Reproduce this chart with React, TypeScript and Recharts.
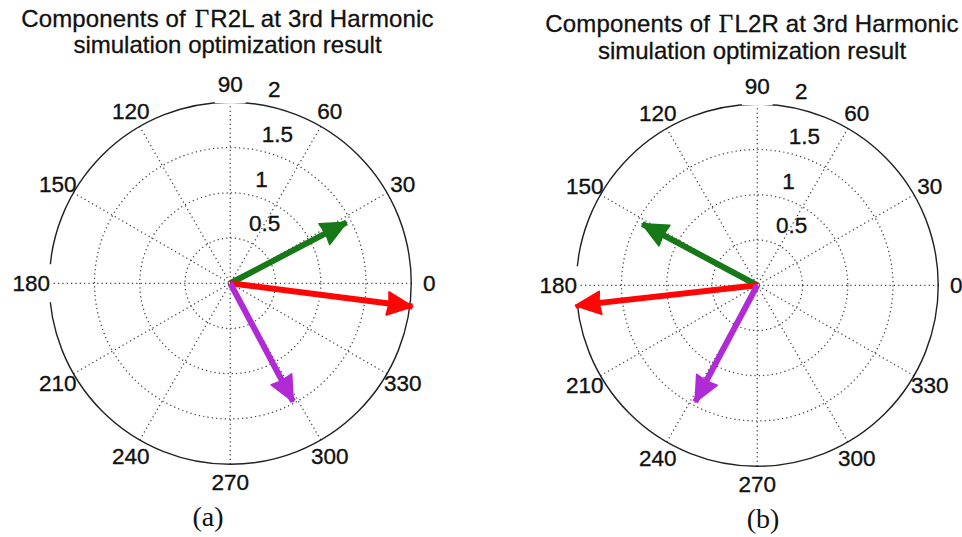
import React from 'react';
import { ComposedChart, XAxis, YAxis, Line, ReferenceLine, ReferenceDot } from 'recharts';

// ---------- data ----------
const ANGLE_TICKS = [0, 30, 60, 90, 120, 150, 180, 210, 240, 270, 300, 330];
const RADIUS_TICKS = [0.5, 1, 1.5, 2];
const RADIUS_MAX = 2;
const VECTOR_COLORS = ['#167816', '#ff0606', '#b02ad6'];

// panel (a): components of Gamma R2L  (magnitude, angle in degrees)
const R2L_MAGNITUDES = [1.45, 2.03, 1.48];
const R2L_ANGLES = [27.6, -7.3, 298];

// panel (b): components of Gamma L2R
const L2R_MAGNITUDES = [1.44, 2.02, 1.46];
const L2R_ANGLES = [151.9, 186.4, 242];

const TITLE_PREFIX = 'Components of ';
const TITLE_SYMBOL = '\u0393';
const TITLE_NAMES = ['R2L', 'L2R'];
const TITLE_SUFFIX = ' at 3rd Harmonic';
const TITLE_LINE2 = 'simulation optimization result';
const SUB_LABELS = ['(a)', '(b)'];

// ---------- helpers ----------
const SANS = '"Liberation Sans", Arial, Helvetica, sans-serif';
const SERIF = '"Liberation Serif", "Times New Roman", serif';
const RAD = Math.PI / 180;
const DOMAIN = 2.5;
const PLOT = 452.5; // 90.5 px per unit
const GRID_DOT = { stroke: '#444', strokeWidth: 1.25, strokeDasharray: '1.25 3.1' };
const TEXT_COLOR = '#111';

const polarToXY = (mag: number, deg: number) => ({
  x: mag * Math.cos(deg * RAD),
  y: mag * Math.sin(deg * RAD),
});

function makeArrowDot(color: string) {
  return (props: any) => {
    const { cx, cy, index, points, payload } = props;
    if (index !== 1 || cx == null || cy == null) return <g key={`n-${index}`} />;
    let dx: number;
    let dy: number;
    if (points && points.length > 1) {
      dx = cx - points[0].x;
      dy = cy - points[0].y;
    } else {
      dx = Math.cos(payload.deg * RAD);
      dy = -Math.sin(payload.deg * RAD);
    }
    const len = Math.hypot(dx, dy) || 1;
    const ux = dx / len;
    const uy = dy / len;
    const L = 25;
    const W = 11.5;
    const bx = cx - ux * L;
    const by = cy - uy * L;
    const nx = cx - ux * L * 0.94;
    const ny = cy - uy * L * 0.94;
    const pts = `${cx},${cy} ${bx - uy * W},${by + ux * W} ${nx},${ny} ${bx + uy * W},${by - ux * W}`;
    return (
      <polygon
        key={`a-${index}`}
        points={pts}
        fill={color}
        stroke={color}
        strokeWidth={1.8}
        strokeLinejoin="round"
      />
    );
  };
}

type PanelProps = {
  magnitudes: number[];
  angles: number[];
  left: number;
  top: number;
};

function CompassPanel({ magnitudes, angles, left, top }: PanelProps) {
  const spokes = ANGLE_TICKS.filter((a) => a < 180);
  const innerRings = RADIUS_TICKS.filter((r) => r < RADIUS_MAX);
  return (
    <div style={{ position: 'absolute', left, top, width: PLOT, height: PLOT }}>
      <ComposedChart
        width={PLOT}
        height={PLOT}
        margin={{ top: 0, right: 0, bottom: 0, left: 0 }}
        style={{ overflow: 'visible' }}
      >
        <XAxis type="number" dataKey="x" domain={[-DOMAIN, DOMAIN]} hide allowDataOverflow />
        <YAxis type="number" dataKey="y" domain={[-DOMAIN, DOMAIN]} hide allowDataOverflow />

        {spokes.map((a) => {
          const p = polarToXY(RADIUS_MAX, a);
          return (
            <ReferenceLine
              key={`spoke-${a}`}
              segment={[{ x: -p.x, y: -p.y }, { x: p.x, y: p.y }]}
              ifOverflow="visible"
              {...GRID_DOT}
            />
          );
        })}

        {innerRings.map((r) => (
          <ReferenceLine
            key={`ring-${r}`}
            segment={[{ x: 0, y: 0 }, { x: r, y: 0 }]}
            ifOverflow="visible"
            shape={(p: any) => (
              <circle
                cx={p.x1}
                cy={p.y1}
                r={Math.abs(p.x2 - p.x1)}
                fill="none"
                {...GRID_DOT}
              />
            )}
          />
        ))}

        <ReferenceLine
          segment={[{ x: 0, y: 0 }, { x: RADIUS_MAX, y: 0 }]}
          ifOverflow="visible"
          shape={(p: any) => (
            <circle cx={p.x1} cy={p.y1} r={Math.abs(p.x2 - p.x1)} fill="none" stroke="#222" strokeWidth={1.4} />
          )}
        />

        {ANGLE_TICKS.map((a) => {
          const p = polarToXY(RADIUS_MAX * 1.1, a);
          const label = String(a);
          const gap = a === 90 || a === 180;
          const w = label.length * 12.4 + 6;
          return (
            <ReferenceDot
              key={`alab-${a}`}
              x={p.x}
              y={p.y}
              r={0}
              ifOverflow="visible"
              shape={(s: any) => (
                <g>
                  {gap && <rect x={s.cx - w / 2} y={s.cy - 19} width={w} height={38} fill="#fff" />}
                  <text
                    x={s.cx}
                    y={s.cy}
                    dy="0.35em"
                    textAnchor="middle"
                    fontFamily={SANS}
                    fontSize={22.5}
                    fill={TEXT_COLOR}
                    stroke={TEXT_COLOR}
                    strokeWidth={0.35}
                  >
                    {label}
                  </text>
                </g>
              )}
            />
          );
        })}

        {RADIUS_TICKS.map((r) => {
          const p = polarToXY(r + 0.025, 82);
          return (
            <ReferenceDot
              key={`rlab-${r}`}
              x={p.x}
              y={p.y}
              r={0}
              ifOverflow="visible"
              shape={(s: any) => (
                <text
                  x={s.cx + 12.2}
                  y={s.cy - 4.7}
                  textAnchor="start"
                  fontFamily={SANS}
                  fontSize={22.5}
                  fill={TEXT_COLOR}
                  stroke={TEXT_COLOR}
                  strokeWidth={0.35}
                >
                  {String(r)}
                </text>
              )}
            />
          );
        })}

        {magnitudes.map((m, i) => {
          const tip = polarToXY(m, angles[i]);
          const data = [
            { x: 0, y: 0, deg: angles[i] },
            { x: tip.x, y: tip.y, deg: angles[i] },
          ];
          return (
            <Line
              key={`vec-${i}`}
              data={data}
              dataKey="y"
              type="linear"
              stroke={VECTOR_COLORS[i]}
              strokeWidth={6}
              strokeLinecap="butt"
              dot={makeArrowDot(VECTOR_COLORS[i])}
              activeDot={false}
              isAnimationActive={false}
            />
          );
        })}
      </ComposedChart>
    </div>
  );
}

function Title({ cx, y1, y2, name }: { cx: number; y1: number; y2: number; name: string }) {
  const base: React.CSSProperties = {
    position: 'absolute',
    left: cx - 300,
    width: 600,
    height: 30,
    lineHeight: '30px',
    textAlign: 'center',
    fontFamily: SANS,
    fontSize: 24,
    color: TEXT_COLOR,
    whiteSpace: 'nowrap',
    WebkitTextStroke: `0.3px ${TEXT_COLOR}`,
  };
  return (
    <>
      <div style={{ ...base, top: y1 - 15, letterSpacing: '0.15px' }}>
        {TITLE_PREFIX}
        <span style={{ fontFamily: SERIF, fontSize: 25, marginLeft: 2, marginRight: 1 }}>{TITLE_SYMBOL}</span>
        {name}
        {TITLE_SUFFIX}
      </div>
      <div style={{ ...base, top: y2 - 15 }}>{TITLE_LINE2}</div>
    </>
  );
}

function SubLabel({ cx, cy, text }: { cx: number; cy: number; text: string }) {
  return (
    <div
      style={{
        position: 'absolute',
        left: cx - 50,
        width: 100,
        top: cy - 18,
        height: 36,
        lineHeight: '36px',
        textAlign: 'center',
        fontFamily: SERIF,
        fontSize: 28,
        color: TEXT_COLOR,
      }}
    >
      {text}
    </div>
  );
}

export default function App() {
  const leftC = { x: 230.5, y: 283 };
  const rightC = { x: 757, y: 285.5 };
  return (
    <div
      style={{
        position: 'absolute',
        left: 0,
        top: 0,
        width: 962,
        height: 537,
        background: '#fff',
        overflow: 'hidden',
      }}
    >
      <Title cx={227.5} y1={19} y2={44.5} name={TITLE_NAMES[0]} />
      <Title cx={752} y1={24} y2={51} name={TITLE_NAMES[1]} />
      <CompassPanel
        magnitudes={R2L_MAGNITUDES}
        angles={R2L_ANGLES}
        left={leftC.x - PLOT / 2}
        top={leftC.y - PLOT / 2}
      />
      <CompassPanel
        magnitudes={L2R_MAGNITUDES}
        angles={L2R_ANGLES}
        left={rightC.x - PLOT / 2}
        top={rightC.y - PLOT / 2}
      />
      <SubLabel cx={208} cy={517} text={SUB_LABELS[0]} />
      <SubLabel cx={763} cy={519} text={SUB_LABELS[1]} />
    </div>
  );
}
